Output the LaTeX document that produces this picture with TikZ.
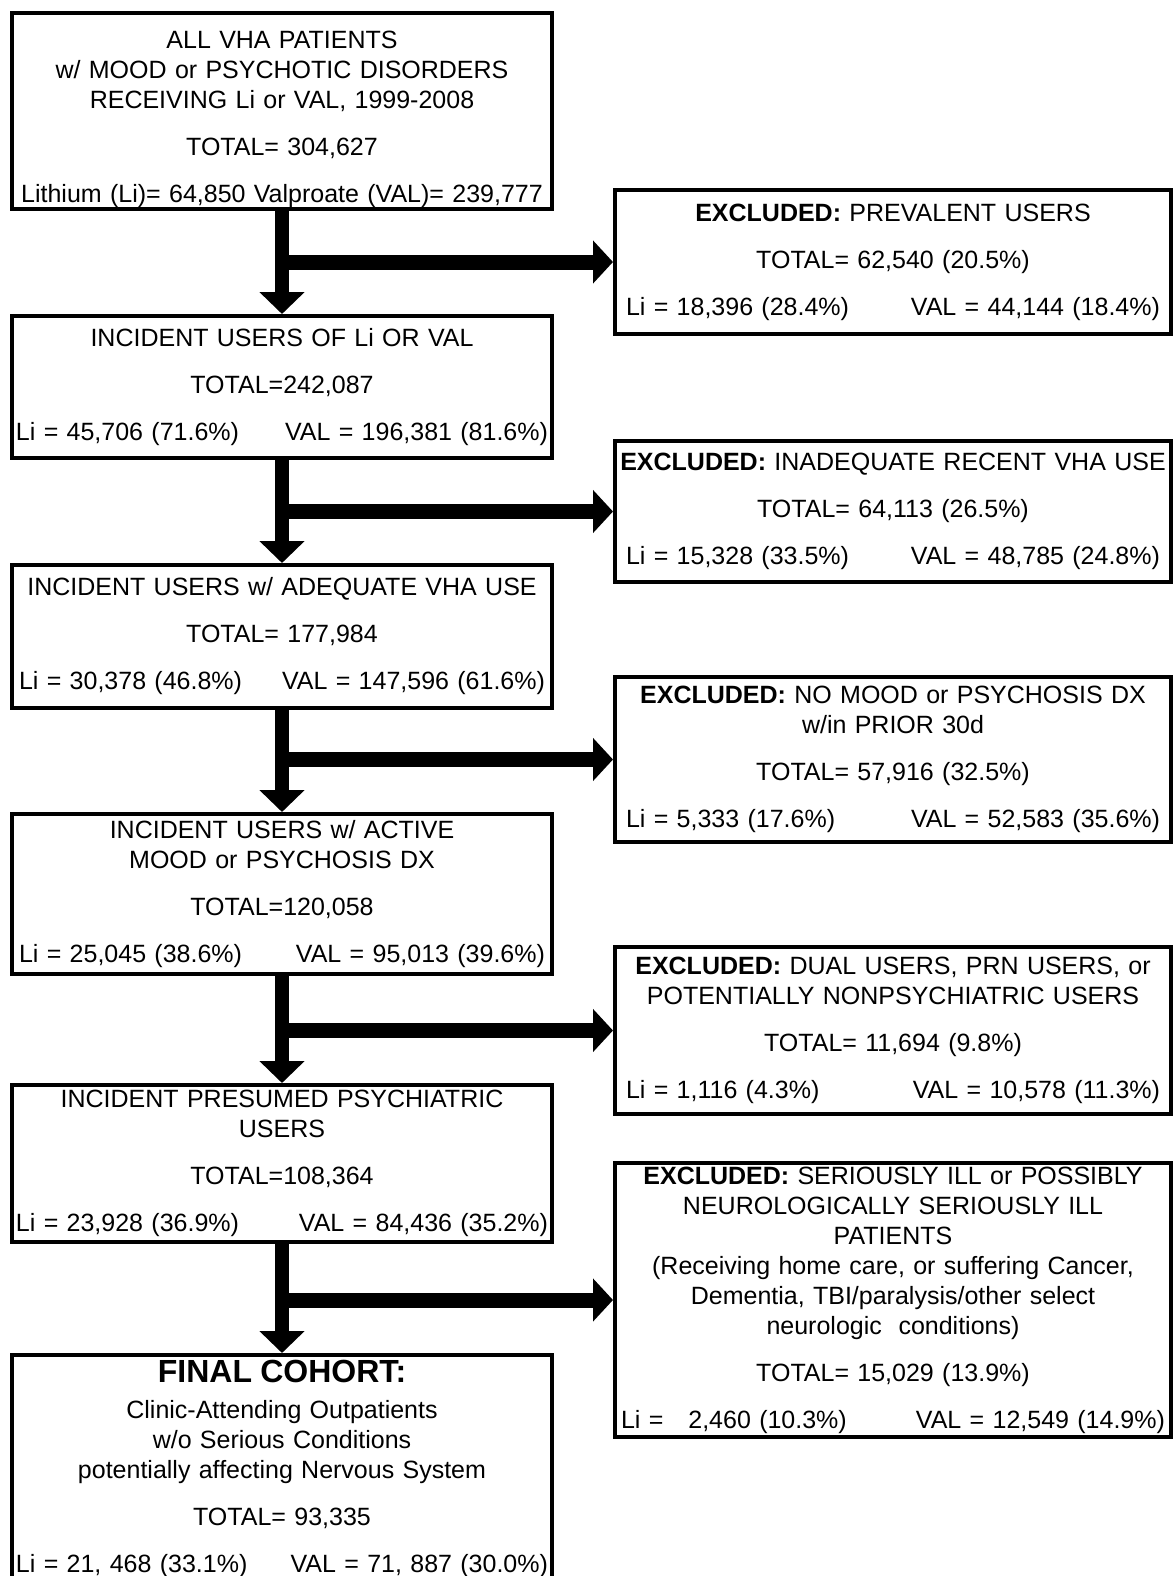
\documentclass[tikz,border=0pt]{standalone}
\usepackage{fontspec}
\setmainfont{Liberation Sans}
\usetikzlibrary{arrows.meta}

\newcommand{\lival}[3][1pt]{\makebox[\linewidth]{\hspace{#1}#2\hfill#3\hspace{#1}}}

\begin{document}
\begin{tikzpicture}[x=1pt, y=-1pt,
		box/.style={draw, line width=4pt, align=center, inner xsep=3pt, font=\fontsize{25}{30}\selectfont},
		lbox/.style={box, minimum width=540pt, text width=534pt},
		rbox/.style={box, minimum width=556pt, text width=550pt},
		down/.style={line width=14pt, -{Triangle[width=44pt,length=22pt]}},
		branch/.style={line width=15pt, -{Triangle[width=42pt,length=20pt]}}]
			\useasboundingbox (0,0) rectangle (1174,1576);
			\clip (0,0) rectangle (1174,1576);
			% left column
			\node[lbox, minimum height=194pt, inner ysep=1pt] (all) at (282,111) {\rule{0pt}{34pt}ALL VHA PATIENTS\\ w/ MOOD or PSYCHOTIC DISORDERS\\ RECEIVING Li or VAL, 1999-2008\\[17pt] TOTAL= 304,627\\[17pt] Lithium (Li)= 64,850 Valproate (VAL)= 239,777};
			\node[lbox, minimum height=142pt] (inc) at (282,387) {INCIDENT USERS OF Li OR VAL\\[17pt] TOTAL=242,087\\[17pt] \lival{Li = 45,706 (71.6\%)}{VAL = 196,381 (81.6\%)}};
			\node[lbox, minimum height=143pt] (adq) at (282,636.5) {INCIDENT USERS w/ ADEQUATE VHA USE\\[17pt] TOTAL= 177,984\\[17pt] \lival[4pt]{Li = 30,378 (46.8\%)}{VAL = 147,596 (61.6\%)}};
			\node[lbox, minimum height=160pt] (act) at (282,894) {INCIDENT USERS w/ ACTIVE\\ MOOD or PSYCHOSIS DX\\[17pt] TOTAL=120,058\\[17pt] \lival[4pt]{Li = 25,045 (38.6\%)}{VAL = 95,013 (39.6\%)}};
			\node[lbox, minimum height=157pt] (psy) at (282,1163.5) {INCIDENT PRESUMED PSYCHIATRIC\\ USERS\\[17pt] TOTAL=108,364\\[17pt] \lival{Li = 23,928 (36.9\%)}{VAL = 84,436 (35.2\%)}};
			\node[lbox, minimum height=228pt] (fin) at (282,1469) {{\fontsize{32}{36}\selectfont\bfseries FINAL COHORT:}\\[6pt] Clinic-Attending Outpatients\\ w/o Serious Conditions\\ potentially affecting Nervous System\\[17pt] TOTAL= 93,335\\[17pt] \lival{Li = 21, 468 (33.1\%)}{VAL = 71, 887 (30.0\%)}};
			% right column
			\node[rbox, minimum height=144pt] (prev) at (893,262) {\textbf{EXCLUDED:} PREVALENT USERS\\[17pt] TOTAL= 62,540 (20.5\%)\\[17pt] \lival[8pt]{Li = 18,396 (28.4\%)}{VAL = 44,144 (18.4\%)}};
			\node[rbox, minimum height=141pt] (inadq) at (893,511.5) {\textbf{EXCLUDED:} INADEQUATE RECENT VHA USE\\[17pt] TOTAL= 64,113 (26.5\%)\\[17pt] \lival[8pt]{Li = 15,328 (33.5\%)}{VAL = 48,785 (24.8\%)}};
			\node[rbox, minimum height=165pt] (nodx) at (893,759.5) {\textbf{EXCLUDED:} NO MOOD or PSYCHOSIS DX\\ w/in PRIOR 30d\\[17pt] TOTAL= 57,916 (32.5\%)\\[17pt] \lival[8pt]{Li = 5,333 (17.6\%)}{VAL = 52,583 (35.6\%)}};
			\node[rbox, minimum height=167pt] (dual) at (893,1030.5) {\textbf{EXCLUDED:} DUAL USERS, PRN USERS, or\\ POTENTIALLY NONPSYCHIATRIC USERS\\[17pt] TOTAL= 11,694 (9.8\%)\\[17pt] \lival[8pt]{Li = 1,116 (4.3\%)}{VAL = 10,578 (11.3\%)}};
			\node[rbox, minimum height=270pt] (ill) at (893,1300) {\textbf{EXCLUDED:} SERIOUSLY ILL or POSSIBLY\\ NEUROLOGICALLY SERIOUSLY ILL\\ PATIENTS\\ (Receiving home care, or suffering Cancer,\\ Dementia, TBI/paralysis/other select\\ neurologic\ \ conditions)\\[17pt] TOTAL= 15,029 (13.9\%)\\[17pt] \lival[3pt]{Li = \ \ 2,460 (10.3\%)}{VAL = 12,549 (14.9\%)}};
			% arrows
			\draw[branch] (all.south |- prev.west) -- (prev.west);
			\draw[branch] (inc.south |- inadq.west) -- (inadq.west);
			\draw[branch] (adq.south |- nodx.west) -- (nodx.west);
			\draw[branch] (act.south |- dual.west) -- (dual.west);
			\draw[branch] (psy.south |- ill.west) -- (ill.west);
			\draw[down] (all) -- (inc);
			\draw[down] (inc) -- (adq);
			\draw[down] (adq) -- (act);
			\draw[down] (act) -- (psy);
			\draw[down] (psy) -- (fin);
		\end{tikzpicture}
\end{document}
